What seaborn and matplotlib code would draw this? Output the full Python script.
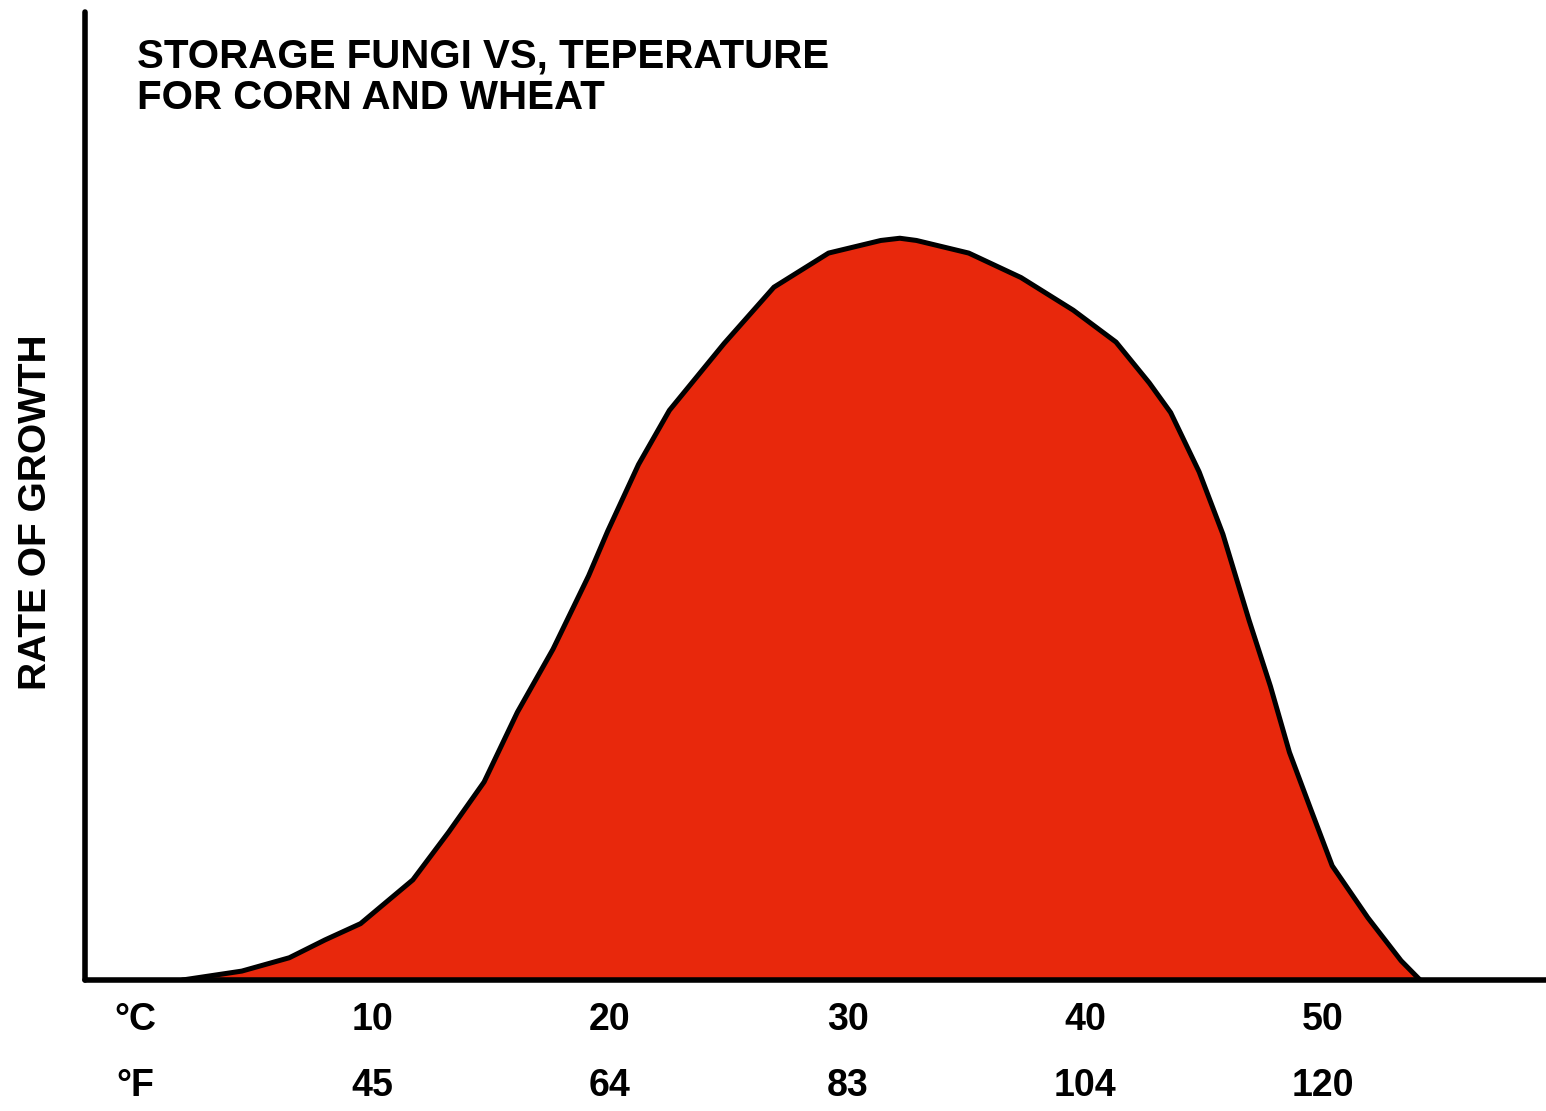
import numpy as np
import pandas as pd
import matplotlib
matplotlib.use("Agg")
import matplotlib.pyplot as plt
import seaborn as sns

# Data (temperature in C, relative growth rate, peak = 100)
temp_c = [2.0, 4.5, 6.5, 8.0, 9.5, 11.7, 13.2, 14.7, 16.1, 17.6, 19.1, 19.9, 21.2,
          22.5, 24.8, 26.9, 29.2, 31.4, 32.2, 32.9, 35.1, 37.3, 39.5, 41.3, 42.7,
          43.6, 44.8, 45.8, 46.9, 47.8, 48.6, 49.5, 50.4, 51.9, 53.3, 54.1]
growth = [0.0, 1.2, 3.0, 5.4, 7.6, 13.5, 19.9, 26.7, 36.1, 44.6, 54.5, 60.5, 69.5,
          76.8, 85.8, 93.4, 98.0, 99.7, 100.0, 99.7, 98.0, 94.7, 90.3, 86.0, 80.5,
          76.5, 68.5, 60.1, 48.5, 39.6, 30.7, 23.0, 15.4, 8.4, 2.6, 0.0]

c_ticks = [0, 10, 20, 30, 40, 50]
c_labels = ["°C", "10", "20", "30", "40", "50"]
f_labels = ["°F", "45", "64", "83", "104", "120"]

title = "STORAGE FUNGI VS, TEPERATURE\nFOR CORN AND WHEAT"
ylabel = "RATE OF GROWTH"

df = pd.DataFrame({"temp_c": temp_c, "growth": growth})

sns.set_theme(style="white")
plt.rcParams["font.family"] = ["Liberation Sans", "DejaVu Sans"]
plt.rcParams["text.color"] = "black"
plt.rcParams["axes.labelcolor"] = "black"
plt.rcParams["xtick.color"] = "black"

fig = plt.figure(figsize=(15.46, 11.11), dpi=100)
ax = fig.add_axes([85 / 1546, 131 / 1111, 1 - 85 / 1546, (980 - 12) / 1111])

ax.fill_between(df["temp_c"], df["growth"], 0, color="#E8280C", lw=0, zorder=2)
sns.lineplot(data=df, x="temp_c", y="growth", color="black", lw=3.6,
             sort=False, ax=ax, zorder=3, solid_joinstyle="round")

ax.set_xlim(-2.1, 59.4)
ax.set_ylim(0, 130.5)

for side in ["top", "right"]:
    ax.spines[side].set_visible(False)
for side in ["left", "bottom"]:
    ax.spines[side].set_linewidth(4)
    ax.spines[side].set_color("black")
    ax.spines[side].set_capstyle("round")

ax.set_yticks([])
ax.set_xticks(c_ticks, labels=c_labels)
ax.tick_params(axis="x", length=0, pad=16, labelsize=27, labelcolor="black")
for t in ax.get_xticklabels():
    t.set_fontweight("bold")
ax.set_xlabel("")
ax.set_ylabel(ylabel, fontsize=28, fontweight="bold")
ax.yaxis.set_label_coords(-0.021, 0.483)

sec = ax.secondary_xaxis(-0.071)
sec.set_xticks(c_ticks, labels=f_labels)
sec.tick_params(axis="x", length=0, pad=14, labelsize=27, labelcolor="black")
sec.spines["bottom"].set_visible(False)
for t in sec.get_xticklabels():
    t.set_fontweight("bold")

fig.text(137 / 1546, 1 - 37 / 1111, title, fontsize=29, fontweight="bold",
         va="top", ha="left", linespacing=1.12)

fig.savefig("out.png", dpi=100)
